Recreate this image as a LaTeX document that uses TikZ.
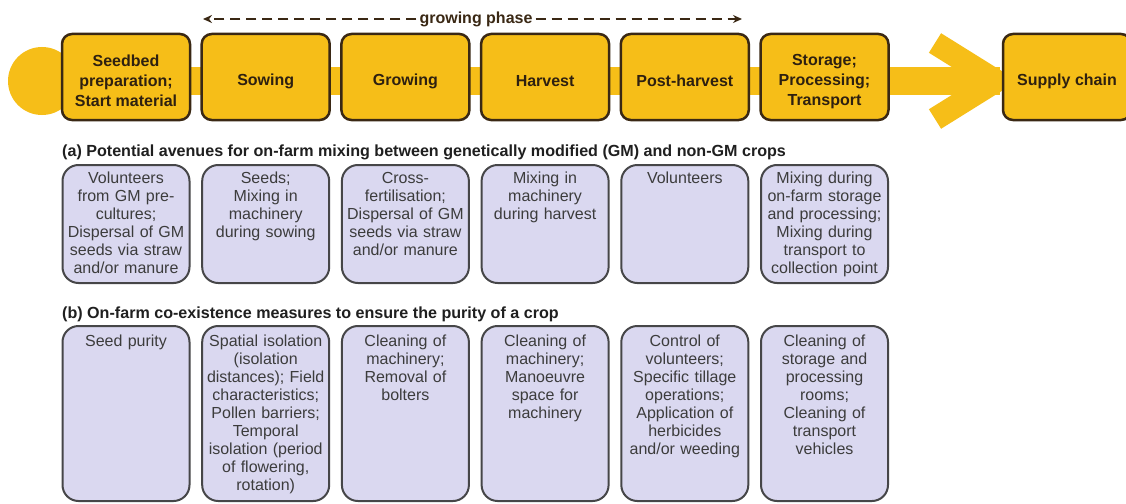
\documentclass[tikz,border=0pt]{standalone}
\usepackage{fontspec}
\setmainfont{Liberation Sans}
\usetikzlibrary{arrows.meta}
\definecolor{cropyellow}{RGB}{246,190,24}
\definecolor{boxbrown}{RGB}{58,40,20}
\definecolor{lavender}{RGB}{218,216,240}
\definecolor{boxgray}{RGB}{70,70,72}
\definecolor{textgray}{RGB}{60,60,60}
\newcommand{\stagestrut}{\rule{0pt}{20pt}}
\tikzset{
  stagebox/.style={draw=boxbrown,line width=2.5pt,fill=cropyellow,rounded corners=10pt,
    minimum width=128pt,minimum height=86pt,align=center,text=boxbrown!80!black,
    font=\fontsize{16}{20}\selectfont\bfseries},
  avenuebox/.style={draw=boxgray,line width=2pt,fill=lavender,rounded corners=16pt,
    text width=123pt,inner xsep=2pt,inner ysep=6pt,align=center,text=textgray,
    font=\fontsize{16}{18}\selectfont,anchor=north,text height=12pt,text depth=94pt},
  measurebox/.style={avenuebox,text height=14pt,text depth=149pt},
  heading/.style={anchor=base west,inner sep=0pt,font=\fontsize{16.1}{18}\selectfont\bfseries,text=black!88},
  growline/.style={draw=boxbrown,line width=2.6pt,dash pattern=on 10pt off 6pt}
}
\begin{document}
\begin{tikzpicture}[x=1pt,y=-1pt]
\useasboundingbox[fill=white] (0,0) rectangle (1126,503);

% the yellow band with its round end and the big arrow head
\fill[cropyellow] (42,81) circle (34);
\fill[cropyellow] (42,67) rectangle (1000,95);
\coordinate (c1) at (935,43);
\coordinate (c2) at (996,81);
\coordinate (c3) at (935,119);
\draw[cropyellow,line width=23pt] (c1) -- (c2) -- (c3);

% the stages of production
\foreach \n/\texto in {1/{Seedbed\\preparation;\\Start material},2/{Sowing},3/{Growing},
  4/{Harvest},5/{Post-harvest},6/{Storage;\\Processing;\\Transport}}
{
  \node[stagebox] (s\n) at ({126+(\n-1)*139.7},77) {\stagestrut\texto};
}
\node[stagebox] (s7) at (1067,77) {\stagestrut Supply chain};

% growing phase arrow
\coordinate (gl) at (203,19);
\coordinate (gr) at (742,19);
\node[font=\fontsize{16}{18}\selectfont\bfseries,text=boxbrown,inner xsep=3pt,inner ysep=0pt] (gp) at (476,19) {growing phase};
\draw[growline,-{Stealth[length=9pt,width=8pt]}] (gp.west) -- (gl);
\draw[growline,-{Stealth[length=9pt,width=8pt]}] (gp.east) -- (gr);

% (a) mixing avenues
\node[heading] (ha) at (62,156) {(a) Potential avenues for on-farm mixing between genetically modified (GM) and non-GM crops};
\foreach \n/\texto in {1/{Volunteers\\from GM pre-\\cultures;\\Dispersal of GM\\seeds via straw\\and/or manure},
  2/{Seeds;\\Mixing in\\machinery\\during sowing},
  3/{Cross-\\fertilisation;\\Dispersal of GM\\seeds via straw\\and/or manure},
  4/{Mixing in\\machinery\\during harvest},
  5/{Volunteers},
  6/{Mixing during\\on-farm storage\\and processing;\\Mixing during\\transport to\\collection point}}
{
  \node[avenuebox] (a\n) at ({126+(\n-1)*139.7},164) {\texto};
}

% (b) co-existence measures
\node[heading] (hb) at (62,318) {(b) On-farm co-existence measures to ensure the purity of a crop};
\foreach \n/\texto in {1/{Seed purity},
  2/{Spatial isolation\\(isolation\\distances); Field\\characteristics;\\Pollen barriers;\\Temporal\\isolation (period\\of flowering,\\rotation)},
  3/{Cleaning of\\machinery;\\Removal of\\bolters},
  4/{Cleaning of\\machinery;\\Manoeuvre\\space for\\machinery},
  5/{Control of\\volunteers;\\Specific tillage\\operations;\\Application of\\herbicides\\and/or weeding},
  6/{Cleaning of\\storage and\\processing\\rooms;\\Cleaning of\\transport\\vehicles}}
{
  \node[measurebox] (b\n) at ({126+(\n-1)*139.7},325) {\texto};
}
\end{tikzpicture}
\end{document}
